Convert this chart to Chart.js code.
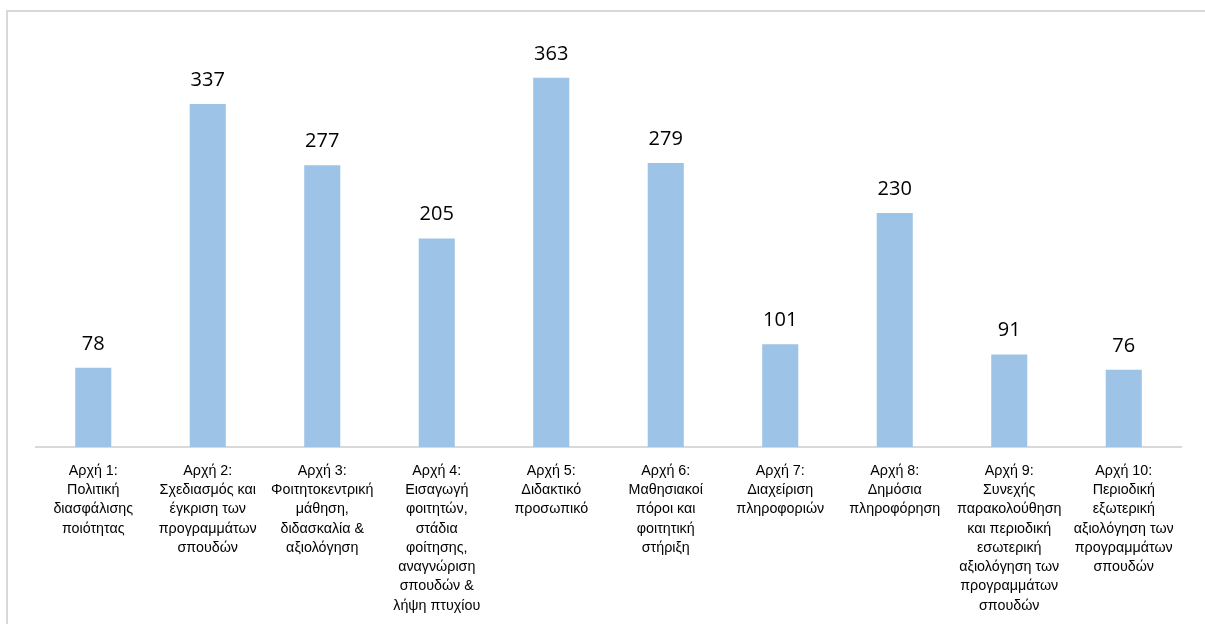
<!DOCTYPE html>
<html>
<head>
<meta charset="utf-8">
<script src="https://cdn.jsdelivr.net/npm/chart.js@4/dist/chart.umd.min.js"></script>
<style>
  html, body { margin: 0; padding: 0; background: #fff; }
  #wrap { position: relative; width: 1205px; height: 624px; overflow: hidden; }
  #frame { position: absolute; left: 6px; top: 10px; width: 1300px; height: 700px;
           border-left: 2px solid #d9d9d9; border-top: 2px solid #d9d9d9; box-sizing: border-box; }
  canvas { position: absolute; left: 0; top: 0; }
</style>
</head>
<body>
<div id="wrap">
  <div id="frame"></div>
  <canvas id="chart" width="1205" height="624"></canvas>
</div>
<script>
const categories = [
  ["Αρχή 1:", "Πολιτική", "διασφάλισης", "ποιότητας"],
  ["Αρχή 2:", "Σχεδιασμός και", "έγκριση των", "προγραμμάτων", "σπουδών"],
  ["Αρχή 3:", "Φοιτητοκεντρική", "μάθηση,", "διδασκαλία &", "αξιολόγηση"],
  ["Αρχή 4:", "Εισαγωγή", "φοιτητών,", "στάδια", "φοίτησης,", "αναγνώριση", "σπουδών &", "λήψη πτυχίου"],
  ["Αρχή 5:", "Διδακτικό", "προσωπικό"],
  ["Αρχή 6:", "Μαθησιακοί", "πόροι και", "φοιτητική", "στήριξη"],
  ["Αρχή 7:", "Διαχείριση", "πληροφοριών"],
  ["Αρχή 8:", "Δημόσια", "πληροφόρηση"],
  ["Αρχή 9:", "Συνεχής", "παρακολούθηση", "και περιοδική", "εσωτερική", "αξιολόγηση των", "προγραμμάτων", "σπουδών"],
  ["Αρχή 10:", "Περιοδική", "εξωτερική", "αξιολόγηση των", "προγραμμάτων", "σπουδών"]
];
const values = [78, 337, 277, 205, 363, 279, 101, 230, 91, 76];

const valueLabels = {
  id: "valueLabels",
  afterDatasetsDraw(chart) {
    const ctx = chart.ctx;
    const meta = chart.getDatasetMeta(0);
    ctx.save();
    ctx.font = "20px 'Open Sans', sans-serif";
    ctx.fillStyle = "#000";
    ctx.textAlign = "center";
    ctx.textBaseline = "alphabetic";
    meta.data.forEach((bar, i) => {
      ctx.fillText(String(values[i]), bar.x, bar.y - 18);
    });
    ctx.restore();
  }
};

new Chart(document.getElementById("chart"), {
  type: "bar",
  data: {
    labels: categories,
    datasets: [{
      data: values,
      backgroundColor: "#9dc3e6",
      borderWidth: 0,
      barPercentage: 1,
      categoryPercentage: 0.315
    }]
  },
  options: {
    responsive: false,
    animation: false,
    layout: { padding: { left: 36, right: 24, top: 40, bottom: 0 } },
    plugins: { legend: { display: false }, tooltip: { enabled: false } },
    scales: {
      x: {
        grid: { display: false, drawTicks: false },
        border: { color: "#d9d9d9", width: 2 },
        ticks: {
          autoSkip: false,
          maxRotation: 0,
          padding: 14,
          color: "#000",
          font: { family: "'Liberation Sans', Arial, sans-serif", size: 14.3, lineHeight: 1.35 }
        },
        afterFit(scale) { scale.height = 177; }
      },
      y: {
        display: false,
        min: 0,
        max: 400
      }
    }
  },
  plugins: [valueLabels]
});
</script>
</body>
</html>
